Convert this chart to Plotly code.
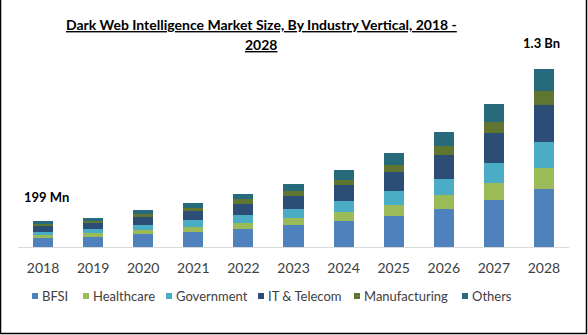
import plotly.graph_objects as go

years = ["2018", "2019", "2020", "2021", "2022", "2023", "2024", "2025", "2026", "2027", "2028"]
bfsi = [64, 71, 93, 110, 130, 161, 188, 227, 276, 342, 425]
healthcare = [22, 31, 29, 37, 46, 51, 66, 81, 102, 127, 154]
government = [22, 29, 39, 51, 59, 66, 83, 102, 119, 146, 190]
it_telecom = [44, 46, 59, 66, 81, 95, 115, 137, 173, 217, 269]
manufacturing = [17, 17, 22, 24, 32, 37, 39, 53, 66, 81, 102]
others = [20, 22, 27, 31, 39, 49, 71, 86, 105, 132, 161]

series = [
    ("BFSI", bfsi, "#4F81BD"),
    ("Healthcare", healthcare, "#9BBB59"),
    ("Government", government, "#4BACC6"),
    ("IT & Telecom", it_telecom, "#2C4D75"),
    ("Manufacturing", manufacturing, "#5F7530"),
    ("Others", others, "#276A7C"),
]
legend_x = [32, 83, 166, 258, 354, 462]  # left edge of each legend square (px)

W, H = 588, 335
ml, mr, mt, mb = 18, 19, 60, 88

fig = go.Figure()
for name, vals, col in series:
    fig.add_trace(go.Bar(x=years, y=vals, name=name, marker=dict(color=col, line=dict(width=0)),
                         showlegend=False))

pw = W - ml - mr
ph = H - mt - mb

def px(x):
    return (x - ml) / pw

def py(y):
    return (H - mb - y) / ph

shapes = [
    dict(type="line", xref="paper", yref="paper", x0=px(0.5), x1=px(0.5), y0=py(0), y1=py(334), line=dict(color="black", width=1.5)),
    dict(type="line", xref="paper", yref="paper", x0=px(586.5), x1=px(586.5), y0=py(0), y1=py(334), line=dict(color="black", width=1.5)),
    dict(type="line", xref="paper", yref="paper", x0=px(0), x1=px(587), y0=py(333.5), y1=py(333.5), line=dict(color="black", width=1.5)),
]
annotations = [
    dict(text="<b><u>Dark Web Intelligence Market Size, By Industry Vertical, 2018 -</u></b>",
         x=px(261), y=py(25), xref="paper", yref="paper", showarrow=False,
         xanchor="center", yanchor="middle", font=dict(size=14, color="#000000")),
    dict(text="<b><u>2028</u></b>",
         x=px(261), y=py(45), xref="paper", yref="paper", showarrow=False,
         xanchor="center", yanchor="middle", font=dict(size=14, color="#000000")),
    dict(text="<b>199 Mn</b>", x=px(46), y=py(197), xref="paper", yref="paper",
         showarrow=False, xanchor="center", yanchor="middle",
         font=dict(size=13, color="#000000")),
    dict(text="<b>1.3 Bn</b>", x=px(541), y=py(43), xref="paper", yref="paper",
         showarrow=False, xanchor="center", yanchor="middle",
         font=dict(size=13, color="#000000")),
]
ly = 296
for (name, vals, col), lx in zip(series, legend_x):
    shapes.append(dict(type="rect", xref="paper", yref="paper", x0=px(lx), x1=px(lx + 6),
                       y0=py(ly - 3), y1=py(ly + 3), fillcolor=col, line=dict(width=0)))
    annotations.append(dict(text=name, x=px(lx + 8), y=py(ly), xref="paper", yref="paper",
                            showarrow=False, xanchor="left", yanchor="middle",
                            font=dict(size=13, color="#404040")))

fig.update_layout(
    width=W, height=H,
    margin=dict(l=ml, r=mr, t=mt, b=mb),
    barmode="stack", bargap=0.6,
    plot_bgcolor="white", paper_bgcolor="white",
    font=dict(family="Lato, Open Sans, sans-serif", color="#404040"),
    xaxis=dict(showgrid=False, showline=True, linecolor="#D9D9D9", linewidth=1,
               ticks="", ticklabelstandoff=8, tickfont=dict(size=14, color="#404040"), fixedrange=True),
    yaxis=dict(visible=False, range=[0, 1369], fixedrange=True),
    showlegend=False,
    annotations=annotations,
    shapes=shapes,
)

fig.write_html("out.html")
